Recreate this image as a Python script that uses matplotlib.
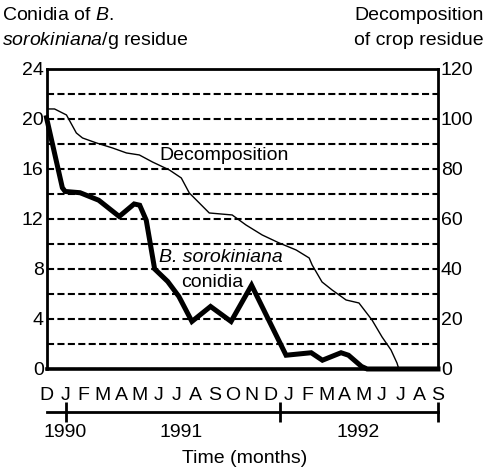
import matplotlib
matplotlib.use('Agg')
import matplotlib.pyplot as plt

FONT = ['Liberation Sans', 'DejaVu Sans']
plt.rcParams['font.family'] = FONT
plt.rcParams['mathtext.fontset'] = 'custom'
plt.rcParams['mathtext.rm'] = 'Liberation Sans'
plt.rcParams['mathtext.it'] = 'Liberation Sans:italic'
FS = 14

# month index 0 = Dec, then Jan ... Sep (22 months)
month_labels = ['D', 'J', 'F', 'M', 'A', 'M', 'J', 'J', 'A', 'S', 'O', 'N',
                'D', 'J', 'F', 'M', 'A', 'M', 'J', 'J', 'A', 'S']

# conidia of B. sorokiniana per g residue (left axis)
conidia_t = [0, 0.85, 1.0, 1.8, 2.8, 3.9, 4.7, 5.0, 5.35, 5.8, 6.5, 7.1,
             7.8, 8.8, 9.9, 11.0, 12.85, 14.2, 14.8, 15.8, 16.2, 16.9, 17.2, 21]
conidia = [20.1, 14.5, 14.2, 14.1, 13.5, 12.2, 13.2, 13.1, 11.9, 8.0, 7.0, 5.8,
           3.8, 5.0, 3.8, 6.7, 1.1, 1.3, 0.7, 1.3, 1.1, 0.2, 0.0, 0.0]

# decomposition of crop residue (right axis)
decomp_t = [0, 0.43, 1.07, 1.6, 1.93, 2.68, 3.54, 4.29, 4.98, 5.68, 6.59, 7.23,
            7.66, 8.73, 9.96, 10.7, 11.57, 12.48, 13.39, 14.09, 14.25, 14.78,
            15.32, 16.07, 16.76, 17.46, 18.0, 18.48, 18.8, 18.9]
decomp = [104, 104, 101.6, 94.4, 92.4, 90.4, 88.4, 86.4, 85.6, 82.8, 79.6, 76.4,
          70.4, 62.4, 61.6, 57.6, 53.6, 50.4, 47.6, 44.4, 41.6, 34.8,
          31.6, 27.6, 26.4, 19.6, 12.8, 7.6, 2.4, 0]

year_ticks = [1.07, 12.5, 21]
year_label_pos = [1.0, 7.2, 16.7]
year_labels = ['1990', '1991', '1992']

fig = plt.figure(figsize=(4.86, 4.71), dpi=100)
ax = fig.add_axes([0.0957, 0.2166, 0.8055, 0.637])

ax.set_xlim(0, 21)
ax.set_ylim(0, 24)
ax.set_yticks(range(0, 25, 4))
ax.set_yticks(range(2, 23, 2), minor=True)
ax.grid(axis='y', which='both', color='black', linestyle=(0, (3.4, 1.6)), lw=1.5)
ax.set_axisbelow(True)

ax.plot(decomp_t, [d / 5 for d in decomp], color='black', lw=1.0, zorder=3)
ax.plot(conidia_t, conidia, color='black', lw=3.6, solid_joinstyle='miter',
        zorder=4, clip_on=False)

for s in ax.spines.values():
    s.set_linewidth(2)
ax.spines['bottom'].set_linewidth(2.6)

ax.set_xticks(range(len(month_labels)))
ax.set_xticklabels(month_labels)
ax.tick_params(axis='x', length=0, pad=13, labelsize=FS)
ax.tick_params(axis='y', which='both', length=0, pad=2, labelsize=FS)

ax2 = ax.twinx()
ax2.set_ylim(0, 120)
ax2.set_yticks(range(0, 121, 20))
ax2.tick_params(axis='y', length=0, pad=2, labelsize=FS)
for s in ax2.spines.values():
    s.set_visible(False)

# year axis below the month letters
yr = ax.secondary_xaxis(-0.143)
yr.xaxis.remove_overlapping_locs = False
yr.set_xticks(year_ticks)
yr.set_xticklabels(['', '', ''])
yr.set_xticks(year_label_pos, labels=year_labels, minor=True)
yr.tick_params(which='major', length=14, width=2, direction='inout')
yr.tick_params(which='minor', length=0, pad=9, labelsize=FS)
yr.spines['bottom'].set_linewidth(2)
yr.spines['bottom'].set_bounds(0, 21)

fig.text(0.503, 0.027, 'Time (months)', ha='center', va='center', fontsize=FS)

fig.text(0.004, 0.968, 'Conidia of $\\mathit{B.}$', ha='left', va='center', fontsize=FS)
fig.text(0.004, 0.915, '$\\mathit{sorokiniana}$/g residue', ha='left', va='center', fontsize=FS)
fig.text(0.996, 0.968, 'Decomposition', ha='right', va='center', fontsize=FS)
fig.text(0.996, 0.915, 'of crop residue', ha='right', va='center', fontsize=FS)

ax.text(9.53, 17.1, 'Decomposition', ha='center', va='center', fontsize=FS, zorder=5)
ax.text(9.37, 8.9, 'B. sorokiniana', ha='center', va='center', fontsize=FS,
        style='italic', zorder=5)
ax.text(8.9, 6.9, 'conidia', ha='center', va='center', fontsize=FS, zorder=5)

fig.savefig('out.png', dpi=100)
